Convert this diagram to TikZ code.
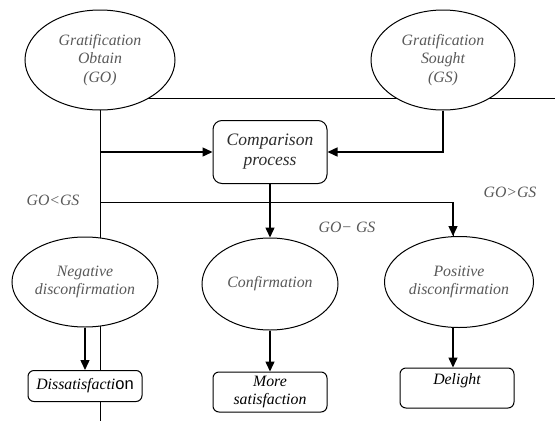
\documentclass[tikz,border=0pt]{standalone}
\usepackage{fontspec}
\setmainfont{Liberation Serif}
\setsansfont{Liberation Sans}
\usetikzlibrary{shapes.geometric, arrows.meta, positioning, backgrounds}

\begin{document}
\begin{tikzpicture}[
    x=1pt, y=-1pt,
    font=\fontsize{15.8}{18.5}\selectfont\itshape,
    % --- Style Definitions ---
    gratnode/.style={
        ellipse, draw, fill=white, line width=1pt,
        inner sep=0pt, align=center, text=gray!70!black
    },
    procnode/.style={
        rectangle, rounded corners=9pt, draw, fill=white, line width=1pt,
        align=center, inner sep=2pt, text=gray!35!black
    },
    outcome/.style={
        rectangle, rounded corners=6pt, draw, fill=white, line width=1pt,
        align=center, inner sep=2pt, minimum width=114pt
    },
    arrow/.style={
        -{Triangle[length=10pt, width=9pt]}, line width=1.4pt
    },
    wire/.style={line width=1pt},
    condlabel/.style={text=gray!70!black, inner sep=0pt}
]

\useasboundingbox (0,0) rectangle (555,421);

% ================= Gratifications =================
\node[gratnode, minimum width=150pt, minimum height=100pt] (go) at (100,60)
    {Gratification\\Obtain\\(GO)};
\node[gratnode, minimum width=144pt, minimum height=100pt] (gs) at (443,60)
    {Gratification\\Sought\\(GS)};

% ================= Comparison =================
\node[procnode, minimum width=114pt, minimum height=63pt,
      font=\fontsize{17.5}{20}\selectfont\itshape] (cmp) at (270,152)
    {Comparison\\process};

% ================= Outcomes =================
\node[gratnode, minimum width=146pt, minimum height=90pt] (neg) at (85,282)
    {Negative\\disconfirmation};
\node[gratnode, minimum width=136pt, minimum height=92pt] (conf) at (270,284)
    {Confirmation};
\node[gratnode, minimum width=149pt, minimum height=91pt] (pos) at (459,282)
    {Positive\\disconfirmation};

\node[outcome, minimum height=31pt] (dis) at (85,386)
    {Dissatisfacti{\sffamily\upshape\fontsize{16.5}{18}\selectfont on}};
\node[outcome, minimum height=40pt] (more) at (270,392)
    {More\\satisfaction};
\node[outcome, minimum height=40pt] (del) at (457,388)
    {Delight\\ \mbox{}};

% ================= Conditions =================
\node[condlabel] (lt) at (53,200) {GO<GS};
\node[condlabel] (gt) at (510,192) {GO>GS};
\node[condlabel] (eq) at (347,227) {GO− GS};

% ================= Connection Logic =================
\coordinate (edge) at (555,98);
\coordinate (bottom) at (100,421);
\coordinate (split) at (100,202);

\begin{scope}[on background layer]
    \draw[wire] (go.center |- edge) -- (edge);
    \draw[wire] (go.center) -- (bottom);
    \draw[wire] (split) -| ([xshift=-6pt]pos.north);
\end{scope}

\draw[arrow] (go.south |- cmp.west) -- (cmp.west);
\draw[arrow] (gs.south) |- (cmp.east);
\draw[arrow] (cmp.south) -- (conf.north);
\draw[arrow] ([xshift=-6pt]pos.north |- split) -- ([xshift=-6pt]pos.north);

\draw[arrow] (neg.south) -- (dis.north);
\draw[arrow] (conf.south) -- (more.north);
\draw[arrow] ([xshift=-6pt]pos.south) -- ([xshift=-4pt]del.north);

\end{tikzpicture}
\end{document}
